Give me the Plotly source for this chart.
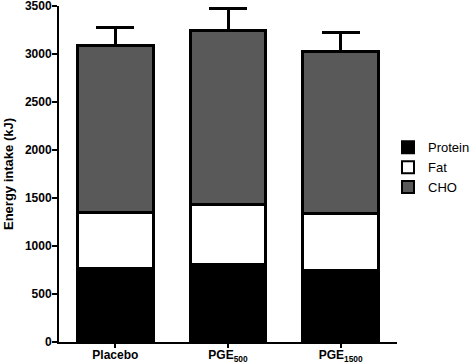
import plotly.graph_objects as go

categories = ["Placebo", "PGE<sub>500</sub>", "PGE<sub>1500</sub>"]
protein = [765, 805, 745]
fat = [582, 628, 591]
cho = [1738, 1811, 1692]
cho_err = [190, 229, 192]

line = dict(color="black", width=3)
fig = go.Figure()
fig.add_trace(go.Bar(name="Protein", x=categories, y=protein, marker=dict(color="black", line=line), width=0.67))
fig.add_trace(go.Bar(name="Fat", x=categories, y=fat, marker=dict(color="white", line=line), width=0.67))
fig.add_trace(go.Bar(name="CHO", x=categories, y=cho, marker=dict(color="#595959", line=line), width=0.67,
                     error_y=dict(type="data", symmetric=False, array=cho_err, arrayminus=[0, 0, 0],
                                  color="black", thickness=3, width=19)))

fig.update_layout(
    barmode="stack",
    width=472, height=363,
    margin=dict(l=59, r=75, t=6, b=21, autoexpand=False),
    paper_bgcolor="white", plot_bgcolor="white",
    font=dict(family="Liberation Sans, Arial, sans-serif", color="black"),
    showlegend=True,
    legend=dict(x=1 - 9 / 338, y=0.52, xanchor="left", yanchor="middle", traceorder="normal",
                font=dict(size=13), itemsizing="constant", tracegroupgap=0, bgcolor="rgba(0,0,0,0)"),
    xaxis=dict(range=[-0.5, 2.5], showline=True, linecolor="black", linewidth=2,
               ticks="outside", ticklen=4, tickwidth=2, tickcolor="black",
               ticklabelstandoff=-3,
               tickfont=dict(size=12, family="Liberation Sans, Arial, sans-serif", weight="bold"),
               showgrid=False, zeroline=False),
    yaxis=dict(range=[0, 3500], dtick=500, showline=True, linecolor="black", linewidth=2,
               ticks="outside", ticklen=5, tickwidth=2, tickcolor="black",
               ticklabeloverflow="allow", ticklabelstandoff=-2,
               tickfont=dict(size=12, family="Liberation Sans, Arial, sans-serif", weight="bold"),
               title=dict(text="<b>Energy intake (kJ)</b>", font=dict(size=13), standoff=8),
               showgrid=False, zeroline=False),
)
fig.write_html("out.html")
